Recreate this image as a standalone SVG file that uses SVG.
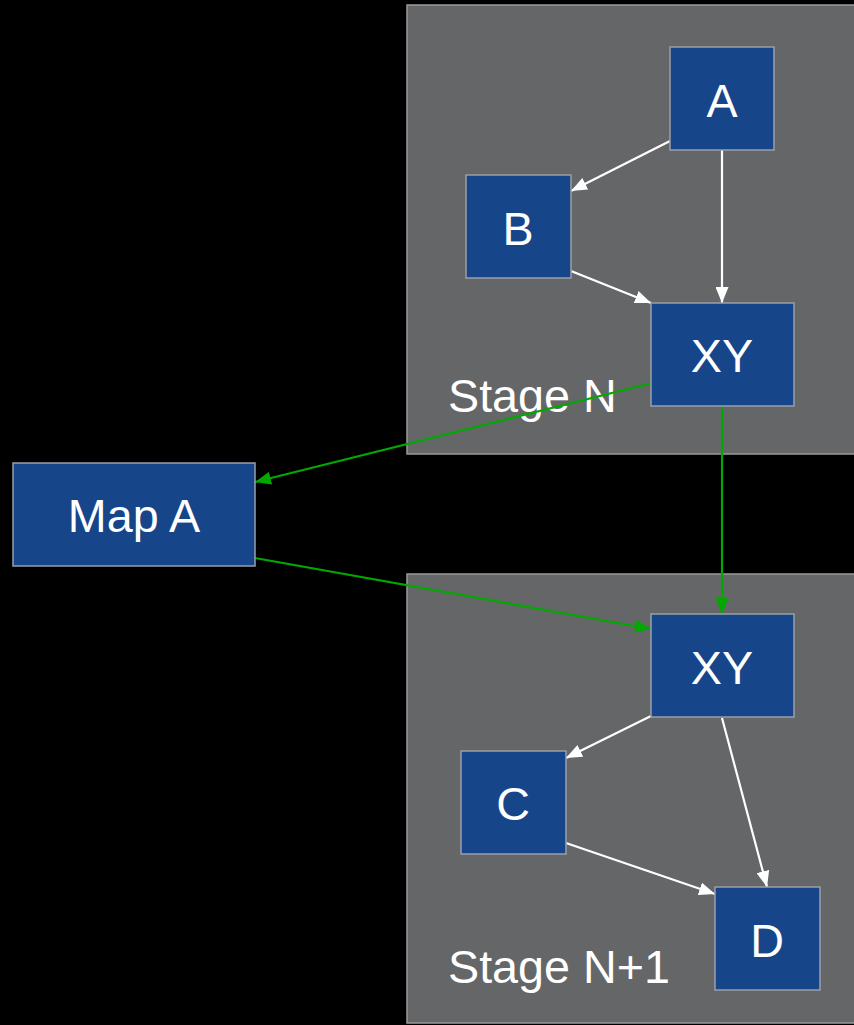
<svg xmlns="http://www.w3.org/2000/svg" width="854" height="1025" viewBox="0 0 854 1025">
<defs>
<marker id="aw" markerUnits="userSpaceOnUse" markerWidth="17" markerHeight="13" refX="16" refY="6.5" orient="auto"><path d="M0,0 L16,6.5 L0,13 z" fill="#ffffff"/></marker>
<marker id="ag" markerUnits="userSpaceOnUse" markerWidth="17" markerHeight="13" refX="16" refY="6.5" orient="auto"><path d="M0,0 L16,6.5 L0,13 z" fill="#00a800"/></marker>
<style>
.cluster{fill:#656667;stroke:#9a9a9a;stroke-width:1.5}
.node{fill:#16458a;stroke:#9aa0a8;stroke-width:1.5}
text{font-family:"Liberation Sans",Arial,sans-serif;fill:#ffffff;font-size:46.7px}
.lbl{text-anchor:middle}
.ew{stroke:#ffffff;stroke-width:2.2;fill:none;marker-end:url(#aw)}
.eg{stroke:#00a800;stroke-width:2.2;fill:none;marker-end:url(#ag)}
</style>
</defs>
<rect width="854" height="1025" fill="#000000"/>
<g id="stageN">
<rect class="cluster" x="407" y="5" width="452" height="449"/>
<text x="448" y="412">Stage N</text>
</g>
<g id="stageN1">
<rect class="cluster" x="407" y="574" width="452" height="449"/>
<text x="448" y="983">Stage N+1</text>
</g>
<g id="connectors">
<line class="ew" x1="670" y1="141" x2="571" y2="191"/>
<line class="ew" x1="722" y1="150" x2="722" y2="303"/>
<line class="ew" x1="571" y1="271" x2="651" y2="303"/>
<line class="ew" x1="651" y1="716" x2="566" y2="758"/>
<line class="ew" x1="722" y1="718" x2="767" y2="887"/>
<line class="ew" x1="566" y1="843" x2="715" y2="894"/>
<line class="eg" x1="652" y1="383" x2="255" y2="482"/>
<line class="eg" x1="255" y1="558" x2="651" y2="629"/>
<line class="eg" x1="722" y1="406" x2="722" y2="614"/>
</g>
<g id="nodeA"><rect class="node" x="670" y="47" width="104" height="103"/><text class="lbl" x="722" y="117">A</text></g>
<g id="nodeB"><rect class="node" x="466" y="175" width="105" height="103"/><text class="lbl" x="518" y="245">B</text></g>
<g id="nodeXY1"><rect class="node" x="651" y="303" width="143" height="103"/><text class="lbl" x="722" y="372">XY</text></g>
<g id="nodeMapA"><rect class="node" x="13" y="463" width="242" height="103"/><text class="lbl" x="134" y="532">Map A</text></g>
<g id="nodeXY2"><rect class="node" x="651" y="614" width="143" height="103"/><text class="lbl" x="722" y="684">XY</text></g>
<g id="nodeC"><rect class="node" x="461" y="751" width="105" height="103"/><text class="lbl" x="513" y="820">C</text></g>
<g id="nodeD"><rect class="node" x="715" y="887" width="105" height="103"/><text class="lbl" x="767" y="957">D</text></g>
</svg>
